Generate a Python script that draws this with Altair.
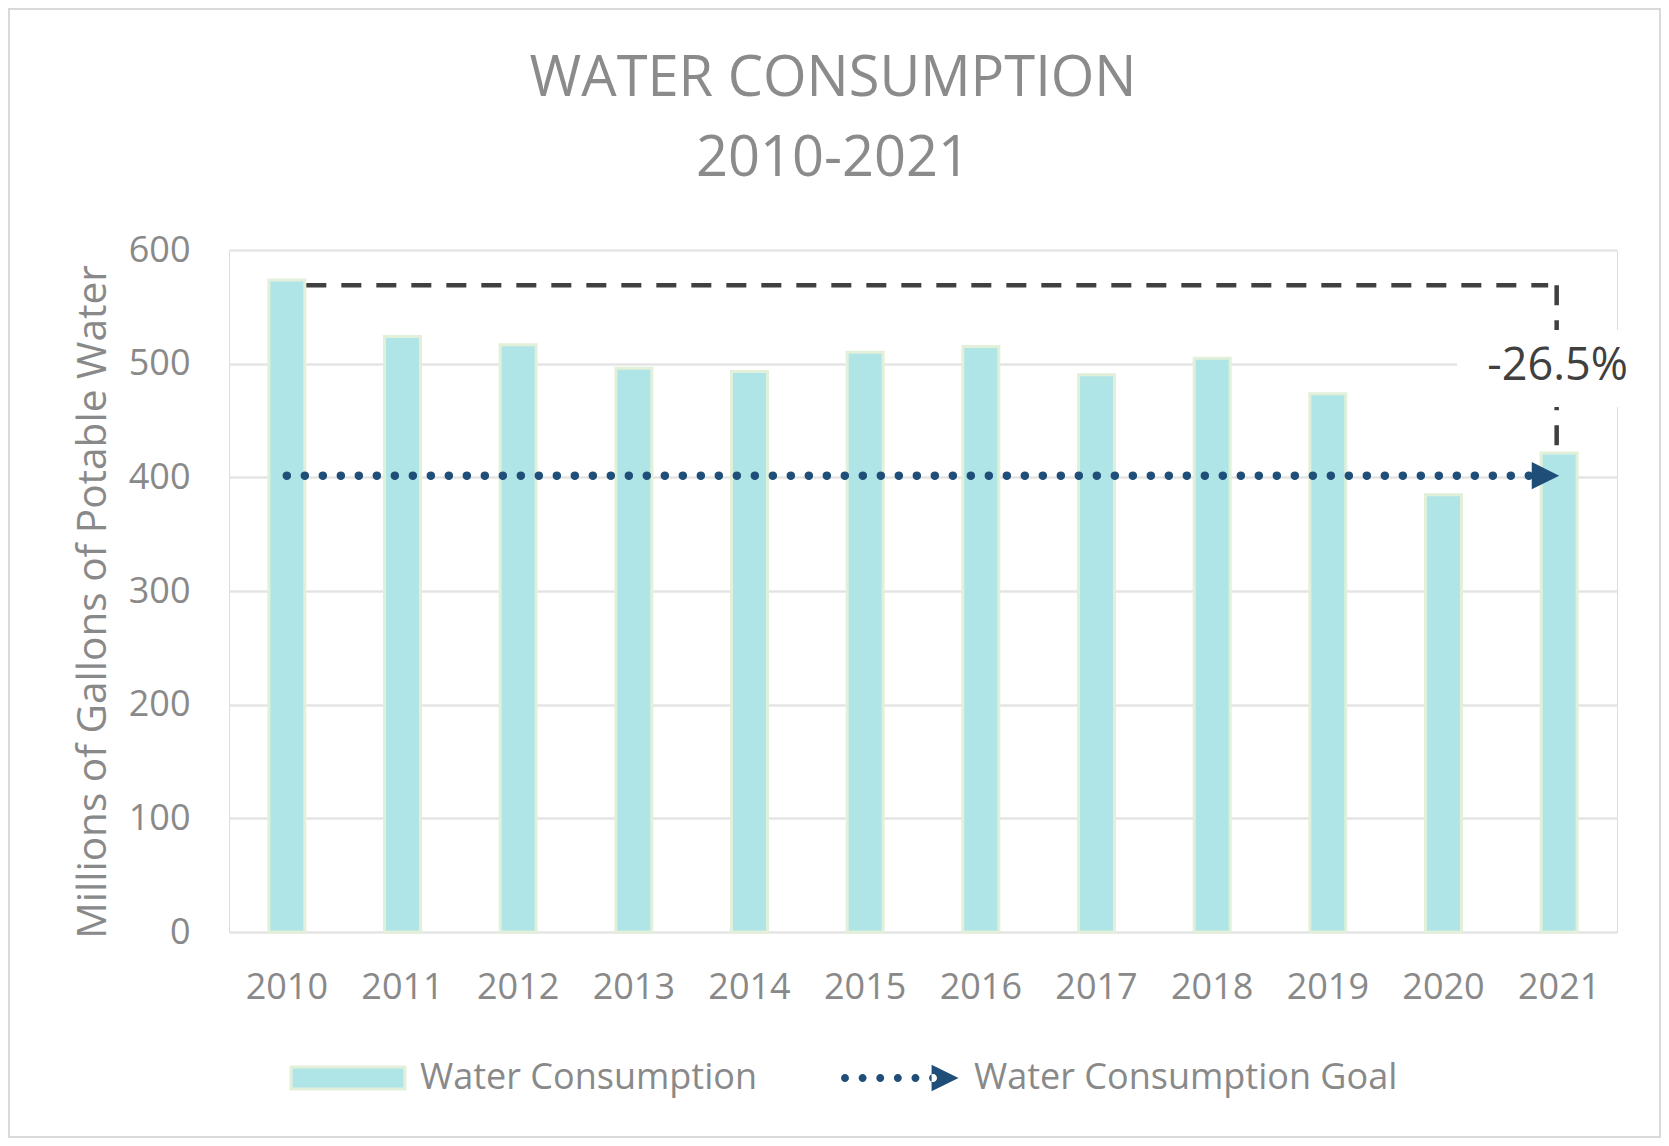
import altair as alt
import pandas as pd

# ---------------- data ----------------
years = ["2010", "2011", "2012", "2013", "2014", "2015",
         "2016", "2017", "2018", "2019", "2020", "2021"]
consumption = [573.5, 524.0, 516.6, 496.0, 493.0, 510.0,
               515.0, 490.3, 504.8, 473.5, 384.6, 421.5]
series_name = "Water Consumption"
goal_name = "Water Consumption Goal"
goal_value = 401.5
ref_level = 569.0          # dashed reference level from 2010
change_label = "-26.5%"
label_level = 485.6        # label baseline (data units)
box_low, box_high = 461.9, 529.6   # white label box (data units)
y_ticks = [0, 100, 200, 300, 400, 500, 600]
y_title = "Millions of Gallons of Potable Water"

# ---------------- style ----------------
FONT = "Open Sans"
GRAY = "#898989"
DARK = "#404040"
NAVY = "#1f4e79"
BAR_FILL = "#b0e5e8"
BAR_STROKE = "#e2f0d9"
GRID = "#e4e4e4"

W, H = 1388, 682

rect_path = "M-0.974,-0.188 H0.974 V0.188 H-0.974 Z"
r = 0.068
dots = "".join(
    f"M{cx - r:.3f},0 a{r},{r} 0 1,0 {2*r:.3f},0 a{r},{r} 0 1,0 {-2*r:.3f},0 Z "
    for cx in [-0.94, -0.639, -0.338, -0.037, 0.264, 0.565]
)
goal_legend_path = dots + "M0.54,-0.228 L1.0,0 L0.54,0.228 Z"
arrow_path = "M0,0 L-2,-1 L-2,1 Z"

bars_df = pd.DataFrame({"year": years, "value": consumption, "series": series_name})
goal_df = pd.DataFrame({"year": [years[0]], "end": [years[-1]],
                        "value": [goal_value], "name": [goal_name]})
goal_pt = pd.DataFrame({"year": [years[-1]], "value": [goal_value], "name": [goal_name]})
ref_df = pd.DataFrame({"year": [years[0]], "end": [years[-1]], "value": [ref_level]})
refv_df = pd.DataFrame({"year": [years[-1]], "value": [ref_level], "last": [consumption[-1]]})
box_df = pd.DataFrame({"year": [years[-1]], "value": [box_high], "lo": [box_low]})
lab_df = pd.DataFrame({"year": [years[-1]], "value": [label_level], "label": [change_label]})
frame_df = pd.DataFrame({"a": [0]})

x_scale = alt.Scale(domain=years, paddingInner=0.689, paddingOuter=0.3445)
y_scale = alt.Scale(domain=[0, 600], nice=False)

x_axis = alt.Axis(title=None, labelAngle=0, labelFont=FONT, labelFontSize=36,
                  labelColor=GRAY, labelPadding=38, ticks=False, tickSize=0,
                  domain=False, grid=False)
y_axis = alt.Axis(title=y_title, values=y_ticks, labelFont=FONT, labelFontSize=36,
                  labelColor=GRAY, labelPadding=39, ticks=False, tickSize=0,
                  domain=False, grid=True, gridColor=GRID, gridWidth=2.5,
                  titleFont=FONT, titleFontSize=40.6, titleColor=GRAY,
                  titleFontWeight="normal", titleX=-136, titleY=351.5,
                  titleBaseline="middle", titleAlign="center", titleAngle=-90)

X = alt.X("year:N", scale=x_scale, sort=years, axis=x_axis)
Y = alt.Y("value:Q", scale=y_scale, axis=y_axis)

# outer chart border (kept inside the 1653 x 1130 drawable area)
frame = alt.Chart(frame_df).mark_rect(
    fill="transparent", stroke="#d9d9d9", strokeWidth=2
).encode(
    x=alt.value(-220), x2=alt.value(1431),
    y=alt.value(-241), y2=alt.value(887),
)

bars = alt.Chart(bars_df).mark_bar(stroke=BAR_STROKE, strokeWidth=3).encode(
    x=X, y=Y,
    fill=alt.Fill("series:N", scale=alt.Scale(domain=[series_name], range=[BAR_FILL]),
                  legend=alt.Legend(title=None, orient="none", legendX=59, legendY=768,
                                    symbolType=rect_path, symbolSize=13689,
                                    symbolStrokeColor=BAR_STROKE, symbolStrokeWidth=3,
                                    labelFont=FONT, labelFontSize=36, labelColor=GRAY,
                                    labelOffset=12, labelLimit=1000, padding=0)),
)

goal_line = alt.Chart(goal_df).mark_rule(
    color=NAVY, strokeWidth=8.5, strokeDash=[0, 18], strokeCap="round"
).encode(x=X, x2="end:N", y=Y)

arrow = alt.Chart(goal_pt).mark_point(
    shape=arrow_path, filled=True, size=750, opacity=1, strokeWidth=0
).encode(
    x=X, y=Y,
    color=alt.Color("name:N", scale=alt.Scale(domain=[goal_name], range=[NAVY]),
                    legend=alt.Legend(title=None, orient="none", legendX=612.5, legendY=769.5,
                                      symbolType=goal_legend_path, symbolSize=13689,
                                      symbolStrokeWidth=0, symbolFillColor=NAVY,
                                      labelFont=FONT, labelFontSize=36, labelColor=GRAY,
                                      labelOffset=15.5, labelLimit=1000, padding=0)),
)

ref_h = alt.Chart(ref_df).mark_rule(
    color=DARK, strokeWidth=4.5, strokeDash=[20, 15], xOffset=19.5, x2Offset=-11
).encode(x=X, x2="end:N", y=Y)

ref_v = alt.Chart(refv_df).mark_rule(
    color=DARK, strokeWidth=4.5, strokeDash=[20, 15], xOffset=-2.5
).encode(x=X, y=Y, y2="last:Q")

box = alt.Chart(box_df).mark_bar(color="white", width=196, xOffset=-4).encode(
    x=X, y=Y, y2="lo:Q",
)

label = alt.Chart(lab_df).mark_text(
    font=FONT, fontSize=45, color=DARK, align="center", baseline="alphabetic", dx=-1.5
).encode(x=X, y=Y, text="label:N")

chart = alt.layer(frame, bars, goal_line, arrow, ref_h, ref_v, box, label).resolve_scale(
    fill="independent", color="independent"
).properties(
    width=W, height=H, padding=0,
    title=alt.TitleParams(text=["WATER CONSUMPTION", "2010-2021"], font=FONT,
                          fontSize=56, fontWeight="normal", color="#8b8b8b",
                          lineHeight=80, anchor="middle", frame="group",
                          offset=-235.7, baseline="bottom", dx=-90),
).configure_view(strokeWidth=0).configure(background="white")

chart.save("out.html", embed_options={"renderer": "svg", "actions": False})
